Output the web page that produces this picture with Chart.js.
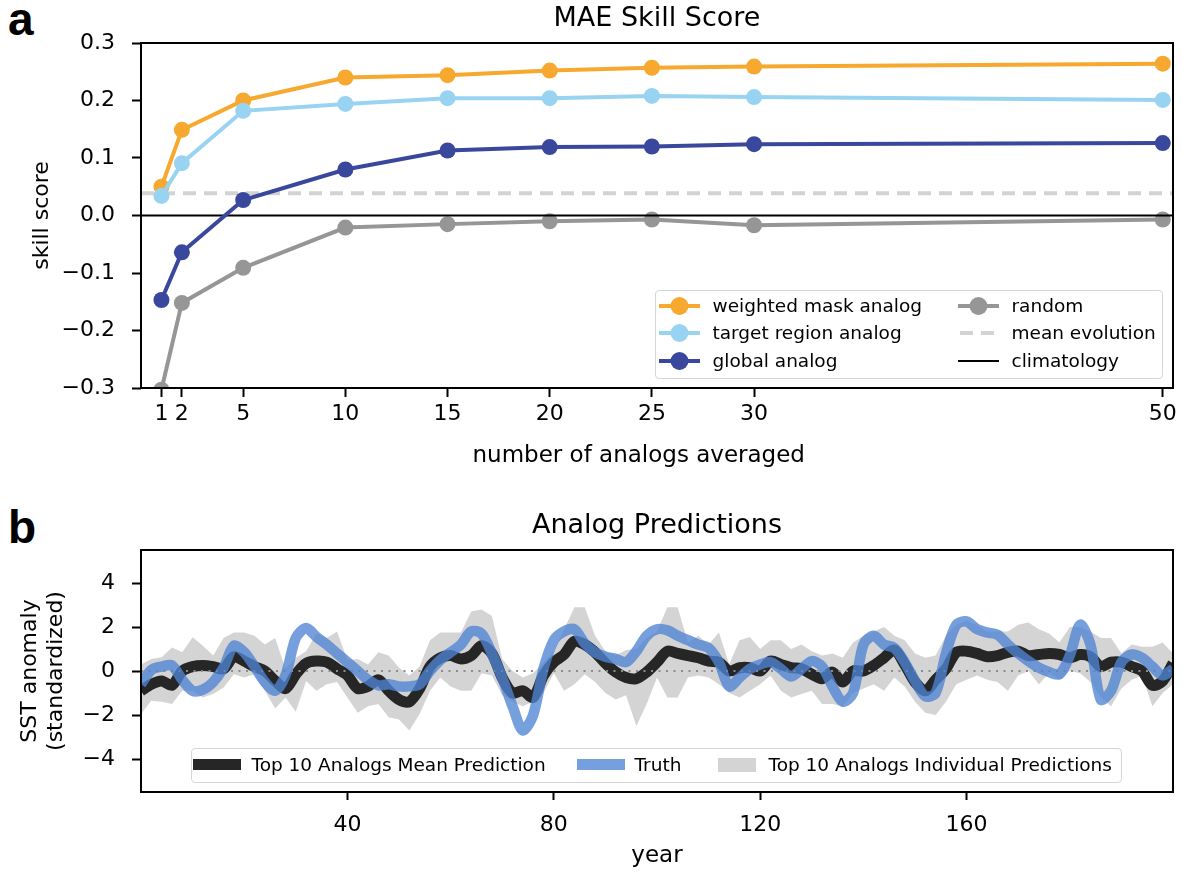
<!DOCTYPE html>
<html>
<head>
<meta charset="utf-8">
<script src="https://cdn.jsdelivr.net/npm/chart.js@4.4.1/dist/chart.umd.min.js"></script>
<style>
  body { margin: 0; background: #fff; font-family: "DejaVu Sans", sans-serif; }
  #page { position: relative; width: 1183px; height: 878px; overflow: hidden; }
  canvas { position: absolute; left: 0; }
  .panel { position: absolute; left: 8px; font-family: "Liberation Sans", Arial, sans-serif;
           font-weight: bold; font-size: 46px; line-height: 46px; color: #000; }
  .legend { position: absolute; background: rgba(255,255,255,0.8); border: 1.5px solid #d6d6d6;
            border-radius: 4px; box-sizing: border-box; }
  .item { position: absolute; font-size: 18.5px; line-height: 22px; white-space: nowrap; color: #000; }
  .handle { position: absolute; }
</style>
</head>
<body>
<div id="page">
  <div class="panel" style="top:-4px">a</div>
  <div class="panel" style="top:504px">b</div>
  <canvas id="skill" width="1183" height="480" style="top:0"></canvas>
  <canvas id="pred" width="1183" height="398" style="top:480px"></canvas>
  <div id="legA" class="legend" style="left:655px; top:290px; width:508px; height:89px"></div>
  <div id="legB" class="legend" style="left:191px; top:748px; width:931px; height:35px"></div>
</div>
<script>
// ---- panel a data ----
const analogCounts = [1, 2, 5, 10, 15, 20, 25, 30, 50];
const weightedMask = [0.050, 0.149, 0.200, 0.240, 0.244, 0.252, 0.257, 0.259, 0.264];
const targetRegion = [0.034, 0.091, 0.182, 0.194, 0.204, 0.204, 0.208, 0.206, 0.201];
const globalAnalog = [-0.147, -0.064, 0.027, 0.080, 0.113, 0.119, 0.120, 0.124, 0.126];
const randomAnalog = [-0.303, -0.152, -0.091, -0.021, -0.015, -0.010, -0.007, -0.017, -0.007];
const meanEvolution = 0.0386;
const climatology = 0;
const skillTicks = [-0.3, -0.2, -0.1, 0, 0.1, 0.2, 0.3];

// ---- panel b data ----
const years = [0,2,4,6,8,10,12,14,16,18,20,22,24,26,28,30,32,34,36,38,40,42,44,46,48,50,
  52,54,56,58,60,62,64,66,68,70,72,74,76,78,80,82,84,86,88,90,92,94,96,98,100,
  102,104,106,108,110,112,114,116,118,120,122,124,126,128,130,132,134,136,138,140,
  142,144,146,148,150,152,154,156,158,160,162,164,166,168,170,172,174,176,178,180,
  182,184,186,188,190,192,194,196,198,200];
const truthVals = [-0.6,0.05,0.2,0.25,-0.4,-0.9,-0.85,-0.5,0.15,1.15,0.85,0.2,-0.5,-0.9,-0.2,1.5,1.95,1.55,1.2,0.8,0.4,
  0.0,-0.4,-0.65,-0.6,-0.7,-0.7,-0.6,0.0,0.5,0.85,1.2,1.8,1.7,0.8,-0.3,-1.6,-2.7,-2.0,0.1,1.4,
  1.8,1.9,1.25,0.85,0.65,0.55,0.4,0.9,1.6,1.9,1.85,1.6,1.4,1.2,1.05,0.4,-0.7,-0.3,0.1,0.3,
  0.4,0.1,-0.25,0.1,0.45,0.2,-0.7,-1.4,-1.0,1.2,1.6,1.2,1.05,0.4,-0.45,-1.15,-1.0,0.8,2.1,2.25,
  1.9,1.75,1.65,1.2,0.8,0.45,0.15,-0.05,-0.15,0.7,2.1,1.2,-1.3,-0.9,0.4,0.75,0.6,0.2,-0.2,0.1];
const meanVals = [-0.9,-0.6,-0.45,-0.65,0.0,0.2,0.25,0.2,0.1,0.65,0.45,0.2,0.0,-0.45,-0.8,-0.15,0.35,0.45,0.4,0.1,-0.2,
  -0.8,-0.7,-0.4,-0.9,-1.3,-1.4,-0.8,0.2,0.6,0.7,0.55,0.7,1.15,0.8,-0.3,-1.0,-0.9,-1.2,-0.2,0.4,
  0.75,1.35,1.2,0.85,0.35,-0.05,-0.3,-0.35,-0.05,0.4,0.9,0.8,0.7,0.6,0.45,0.4,0.0,0.15,0.15,0.0,
  0.45,0.3,0.15,0.1,-0.15,-0.35,-0.05,-0.5,0.0,0.0,0.25,0.6,0.95,0.3,-0.5,-0.9,-0.4,0.1,0.85,0.9,
  0.8,0.65,0.7,0.85,0.9,0.7,0.75,0.8,0.75,0.6,0.75,0.65,0.2,0.4,0.4,0.2,0.0,-0.65,-0.45,0.35];
const bandHigh = [0.3,0.55,0.62,1.07,0.85,1.53,1.15,0.7,1.5,1.75,1.75,1.6,1.2,1.5,0.1,0.6,0.9,1.7,1.5,1.8,0.5,
  0.55,0.3,0.85,0.7,0.15,-0.2,0.2,1.4,1.75,1.75,1.75,2.7,2.8,2.5,0.55,0.0,-0.3,-0.1,0.4,0.9,
  1.9,2.9,2.9,1.6,0.9,0.7,0.95,1.0,1.5,1.8,2.9,2.9,1.3,1.6,1.2,1.75,0.3,1.4,1.55,1.0,
  1.4,1.4,1.0,1.2,0.9,0.7,0.8,0.6,1.3,1.6,1.8,2.0,1.6,1.4,0.8,0.6,0.7,1.6,2.1,2.3,
  2.1,1.8,1.8,1.8,2.1,2.2,1.9,1.7,1.3,2.0,2.0,1.8,1.5,1.5,0.8,1.2,1.1,1.1,1.3,0.8];
const bandLow = [-1.95,-1.35,-1.4,-1.5,-0.9,-0.9,-1.2,-1.05,-0.75,-0.15,-0.3,-0.15,-0.9,-1.7,-1.2,-1.85,-0.45,-0.9,-0.6,-0.5,-1.2,
  -1.9,-1.6,-1.5,-2.1,-2.2,-2.7,-1.95,-0.9,-0.3,-0.7,-0.9,-0.9,-0.1,-0.2,-1.1,-1.4,-1.6,-1.4,-1.0,-0.1,
  -0.9,-0.6,-0.15,-0.5,-1.0,-1.3,-1.1,-2.5,-1.5,-0.3,-1.2,-1.2,-0.3,-0.2,-0.3,-0.6,-1.0,-1.2,-0.9,-0.6,
  -0.2,-0.9,-1.2,-1.05,-0.9,-1.5,-1.5,-1.6,-1.0,-0.8,-0.6,-0.9,-0.3,-0.7,-1.4,-1.9,-2.0,-1.4,-0.6,-0.4,
  -0.2,-0.4,-0.5,-0.9,-0.2,0.0,-0.6,-0.1,-0.4,0.0,-0.1,-0.5,-1.2,-1.6,-0.8,-0.4,-0.2,-1.6,-1.0,-0.6];
const sstTicks = [-4, -2, 0, 2, 4];
const yearTicks = [40, 80, 120, 160];

const FAM = '"DejaVu Sans", sans-serif';
const minus = s => s.replace('-', '\u2212');

const frame = {
  id: 'frame',
  afterDatasetsDraw(chart) {
    const { ctx, chartArea: a } = chart;
    ctx.save();
    ctx.strokeStyle = '#000';
    ctx.lineWidth = 2;
    ctx.strokeRect(a.left, a.top, a.right - a.left, a.bottom - a.top);
    ctx.restore();
  }
};

function tickGrid() {
  return { drawOnChartArea: false, drawTicks: true, tickLength: 9, tickWidth: 2, tickColor: '#000' };
}

// ---- panel a ----
const orange = '#f6a92e', lightBlue = '#98d3f2', darkBlue = '#39489d', gray = '#969696';
const pts = (xs, ys) => xs.map((x, i) => ({ x: x, y: ys[i] }));
const skillLine = (label, ys, color, order) => ({
  label, data: pts(analogCounts, ys), borderColor: color, backgroundColor: color,
  borderWidth: 4, pointRadius: 8, pointHoverRadius: 8, pointBorderWidth: 0,
  pointBackgroundColor: color, order, clip: 0
});

const skillSets = [
  skillLine('weighted mask analog', weightedMask, orange, 1),
  skillLine('target region analog', targetRegion, lightBlue, 0),
  skillLine('global analog', globalAnalog, darkBlue, 2),
  skillLine('random', randomAnalog, gray, 4),
  { label: 'mean evolution', data: [{ x: 0, y: meanEvolution }, { x: 50.5, y: meanEvolution }],
    borderColor: '#d3d3d3', borderWidth: 4, borderDash: [13, 8], pointRadius: 0, order: 5, clip: 0 },
  { label: 'climatology', data: [{ x: 0, y: climatology }, { x: 50.5, y: climatology }],
    borderColor: '#000', borderWidth: 2, pointRadius: 0, order: 3, clip: 0 }
];

new Chart(document.getElementById('skill'), {
  type: 'line',
  data: { datasets: skillSets },
  options: {
    responsive: false, animation: false,
    layout: { padding: { left: 0, right: 10, top: 0, bottom: 0 } },
    plugins: {
      legend: { display: false }, tooltip: { enabled: false },
      title: { display: true, text: 'MAE Skill Score', fullSize: false, color: '#000',
               font: { family: FAM, size: 27, weight: 'normal' }, padding: { top: 2.6, bottom: 8 } }
    },
    scales: {
      x: {
        type: 'linear', min: 0, max: 50.5,
        afterBuildTicks: s => { s.ticks = analogCounts.map(v => ({ value: v })); },
        afterFit: s => { s.height = 92; },
        grid: tickGrid(), border: { display: false },
        ticks: { padding: 4, color: '#000', font: { family: FAM, size: 22 }, maxRotation: 0, autoSkip: false,
                 callback: v => String(v) },
        // trailing spaces keep the label where the original sits (left of the axis centre)
        title: { display: true, text: 'number of analogs averaged     ', color: '#000',
                 font: { family: FAM, size: 23 }, padding: { top: 0, bottom: 9.8 } }
      },
      y: {
        min: -0.3, max: 0.3,
        afterBuildTicks: s => { s.ticks = skillTicks.map(v => ({ value: v })); },
        afterFit: s => { s.width = 141; },
        grid: tickGrid(), border: { display: false },
        ticks: { padding: 17, color: '#000', font: { family: FAM, size: 22 },
                 callback: v => minus(v.toFixed(1)) },
        title: { display: true, text: 'skill score', color: '#000',
                 font: { family: FAM, size: 22 }, padding: { top: 28.8, bottom: 0 } }
      }
    }
  },
  plugins: [frame]
});

// ---- panel b ----
const truthColor = 'rgba(80,132,212,0.78)', meanColor = '#262626', bandColor = 'rgba(205,205,205,0.85)';
const predSets = [
  { label: 'Truth', data: pts(years, truthVals), borderColor: truthColor, borderWidth: 10.5,
    borderJoinStyle: 'round', pointRadius: 0, tension: 0.3, order: 0, clip: 0 },
  { label: 'zero', data: [{ x: 0, y: 0 }, { x: 200, y: 0 }], borderColor: '#8c8c8c', borderWidth: 2,
    borderDash: [2, 5.5], pointRadius: 0, order: 1, clip: 0 },
  { label: 'Top 10 Analogs Mean Prediction', data: pts(years, meanVals), borderColor: meanColor,
    borderWidth: 11, borderJoinStyle: 'round', pointRadius: 0, tension: 0.3, order: 2, clip: 0 },
  { label: 'Top 10 Analogs Individual Predictions', data: pts(years, bandHigh), borderColor: 'rgba(0,0,0,0)',
    backgroundColor: bandColor, fill: '+1', pointRadius: 0, order: 3, clip: 0 },
  { label: 'low', data: pts(years, bandLow), borderColor: 'rgba(0,0,0,0)', fill: false,
    pointRadius: 0, order: 4, clip: 0 }
];

new Chart(document.getElementById('pred'), {
  type: 'line',
  data: { datasets: predSets },
  options: {
    responsive: false, animation: false,
    layout: { padding: { left: 0, right: 10, top: 0, bottom: 0 } },
    plugins: {
      legend: { display: false }, tooltip: { enabled: false },
      title: { display: true, text: 'Analog Predictions', fullSize: false, color: '#000',
               font: { family: FAM, size: 27, weight: 'normal' }, padding: { top: 29.6, bottom: 8 } }
    },
    scales: {
      x: {
        type: 'linear', min: 0, max: 200,
        afterBuildTicks: s => { s.ticks = yearTicks.map(v => ({ value: v })); },
        afterFit: s => { s.height = 86; },
        grid: Object.assign(tickGrid(), { tickLength: 8 }), border: { display: false },
        ticks: { padding: 12, color: '#000', font: { family: FAM, size: 22 }, maxRotation: 0, autoSkip: false,
                 callback: v => String(v) },
        title: { display: true, text: 'year', color: '#000',
                 font: { family: FAM, size: 23 }, padding: { top: 0, bottom: 7.8 } }
      },
      y: {
        min: -5.5, max: 5.5,
        afterBuildTicks: s => { s.ticks = sstTicks.map(v => ({ value: v })); },
        afterFit: s => { s.width = 141; },
        grid: tickGrid(), border: { display: false },
        ticks: { padding: 17, color: '#000', font: { family: FAM, size: 22 },
                 callback: v => minus(String(v)) },
        title: { display: true, text: ['SST anomaly', '(standardized)'], color: '#000',
                 font: { family: FAM, size: 22 }, padding: { top: 16.8, bottom: 0 } }
      }
    }
  },
  plugins: [frame]
});

// ---- legends (HTML, built from the dataset styles) ----
function addItem(box, x, y, text) {
  const d = document.createElement('div');
  d.className = 'item';
  d.style.left = x + 'px';
  d.style.top = (y - 11) + 'px';
  d.textContent = text;
  box.appendChild(d);
}
function svgHandle(box, x, y, w, h, inner) {
  const s = document.createElementNS('http://www.w3.org/2000/svg', 'svg');
  s.setAttribute('class', 'handle');
  s.setAttribute('width', w); s.setAttribute('height', h);
  s.style.left = x + 'px'; s.style.top = (y - h / 2) + 'px';
  s.innerHTML = inner;
  box.appendChild(s);
}

const legA = document.getElementById('legA');
const oxA = 655 + 1.5, oyA = 290 + 1.5;
const colA = [
  { hx: 659, tx: 713, sets: [skillSets[0], skillSets[1], skillSets[2]] },
  { hx: 958, tx: 1012, sets: [skillSets[3], skillSets[4], skillSets[5]] }
];
const rowsA = [306, 333.5, 361.5];
colA.forEach(col => {
  col.sets.forEach((ds, r) => {
    const cy = rowsA[r] - oyA, hx = col.hx - oxA;
    let inner;
    if (ds.pointRadius) {
      inner = `<line x1="0" y1="12" x2="41" y2="12" stroke="${ds.borderColor}" stroke-width="${ds.borderWidth}"/>` +
              `<circle cx="20.5" cy="12" r="${ds.pointRadius + 1}" fill="${ds.borderColor}"/>`;
    } else if (ds.borderDash) {
      inner = `<line x1="2" y1="12" x2="41" y2="12" stroke="${ds.borderColor}" stroke-width="${ds.borderWidth}" stroke-dasharray="${ds.borderDash.join(' ')}"/>`;
    } else {
      inner = `<line x1="0" y1="12" x2="41" y2="12" stroke="${ds.borderColor}" stroke-width="${ds.borderWidth}"/>`;
    }
    svgHandle(legA, hx, cy, 41, 24, inner);
    addItem(legA, col.tx - oxA, cy, ds.label);
  });
});

const legB = document.getElementById('legB');
const oxB = 191 + 1.5, oyB = 748 + 1.5, cyB = 765 - oyB;
const itemsB = [
  { ds: predSets[2], hx: 193, w: 48, h: 11, tx: 252 },
  { ds: predSets[0], hx: 577, w: 48, h: 11, tx: 635 },
  { ds: predSets[3], hx: 718, w: 38, h: 14, tx: 769 }
];
itemsB.forEach(it => {
  const col = it.ds.fill ? it.ds.backgroundColor : it.ds.borderColor;
  svgHandle(legB, it.hx - oxB, cyB, it.w, it.h, `<rect x="0" y="0" width="${it.w}" height="${it.h}" fill="${col}"/>`);
  addItem(legB, it.tx - oxB, cyB, it.ds.label);
});
</script>
</body>
</html>
